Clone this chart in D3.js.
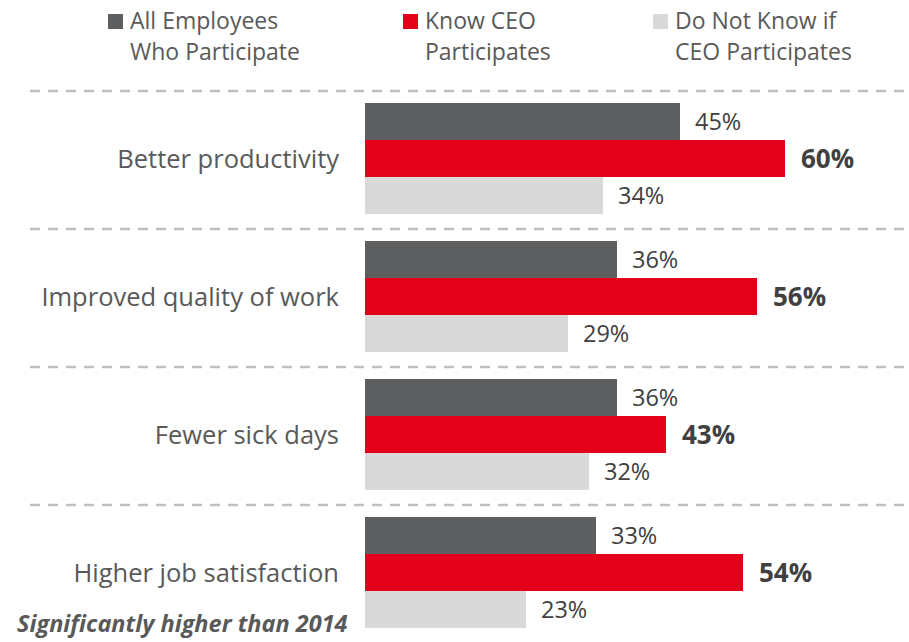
<!DOCTYPE html>
<html>
<head>
<meta charset="utf-8">
<script src="https://cdn.jsdelivr.net/npm/d3@7/dist/d3.min.js"></script>
<style>
  html, body { margin: 0; padding: 0; background: #fff; }
  svg { display: block; font-family: "Open Sans", "Noto Sans", sans-serif; }
</style>
</head>
<body>
<svg id="chart" width="909" height="642"></svg>
<script>
// Survey outcomes by participation group
const categories = ["Better productivity", "Improved quality of work", "Fewer sick days", "Higher job satisfaction"];
const seriesNames = [["All Employees", "Who Participate"], ["Know CEO", "Participates"], ["Do Not Know if", "CEO Participates"]];
const allEmployees = [45, 36, 36, 33];
const knowCEO = [60, 56, 43, 54];
const doNotKnow = [34, 29, 32, 23];
const footnote = "Significantly higher than 2014";

const seriesKeys = ["all", "know", "dontknow"];
const colors = { all: "#5d5e60", know: "#e2001a", dontknow: "#d9d9d9" };
const values = { all: allEmployees, know: knowCEO, dontknow: doNotKnow };

const svg = d3.select("#chart");

const x = d3.scaleLinear().domain([0, 60]).range([365, 785]);
const y0 = d3.scaleBand().domain(categories).range([91, 643]).paddingInner(0);
const y1 = d3.scaleBand().domain(seriesKeys).range([12, 123]);

// dashed separators above each group
svg.append("g").selectAll("line").data(categories).join("line")
  .attr("x1", 30).attr("x2", 909)
  .attr("y1", d => y0(d)).attr("y2", d => y0(d))
  .attr("stroke", "#bfbfbf").attr("stroke-width", 2.5)
  .attr("stroke-dasharray", "10,8");

const groups = svg.append("g").selectAll("g").data(categories).join("g")
  .attr("transform", d => `translate(0,${y0(d)})`);

groups.selectAll("rect")
  .data((d, i) => seriesKeys.map(k => ({ key: k, value: values[k][i] })))
  .join("rect")
  .attr("x", x(0))
  .attr("y", d => y1(d.key))
  .attr("width", d => x(d.value) - x(0))
  .attr("height", y1.bandwidth())
  .attr("fill", d => colors[d.key]);

groups.selectAll("text.val")
  .data((d, i) => seriesKeys.map(k => ({ key: k, value: values[k][i] })))
  .join("text")
  .attr("class", "val")
  .attr("x", d => x(d.value) + (d.key === "know" ? 16 : 15))
  .attr("y", d => y1(d.key) + y1.bandwidth() / 2)
  .attr("dy", "0.36em")
  .attr("font-size", d => d.key === "know" ? 26 : 23.5)
  .attr("font-weight", d => d.key === "know" ? 700 : 400)
  .attr("fill", "#404040")
  .text(d => d.value + "%");

// category labels
groups.append("text")
  .attr("x", 339)
  .attr("y", y1("know") + y1.bandwidth() / 2)
  .attr("dy", "0.38em")
  .attr("text-anchor", "end")
  .attr("font-size", 25.5)
  .attr("fill", "#595959")
  .text(d => d);

// legend
const legendX = [108, 403, 653];
const legend = svg.append("g").selectAll("g").data(seriesKeys).join("g")
  .attr("transform", (d, i) => `translate(${legendX[i]},0)`);
legend.append("rect")
  .attr("x", 0).attr("y", 14).attr("width", 15).attr("height", 15)
  .attr("fill", d => colors[d]);
legend.append("text")
  .attr("font-size", 23)
  .attr("fill", "#595959")
  .selectAll("tspan")
  .data((d, i) => seriesNames[i])
  .join("tspan")
  .attr("x", 22)
  .attr("y", (d, j) => 29 + j * 31)
  .text(d => d);

// footnote
svg.append("text")
  .attr("x", 17).attr("y", 632)
  .attr("font-size", 23.5)
  .attr("font-weight", 700)
  .attr("font-style", "italic")
  .attr("fill", "#595959")
  .text(footnote);
</script>
</body>
</html>
